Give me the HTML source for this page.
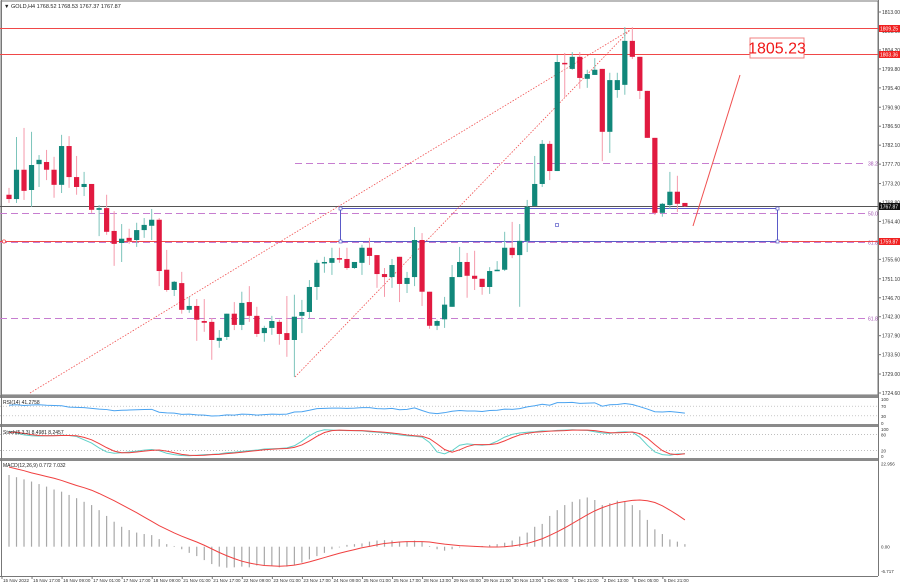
<!DOCTYPE html>
<html><head><meta charset="utf-8"><style>
html,body{margin:0;padding:0;background:#fff;width:900px;height:585px;overflow:hidden}
svg{display:block;font-family:"Liberation Sans",sans-serif}
</style></head><body>
<svg id="c" width="900" height="585" viewBox="0 0 900 585"></svg>
<script>
// ---------- data ----------
const opens=[1770.6,1769.6,1776.4,1771.7,1777.7,1778.2,1776.4,1772.9,1781.9,1774.7,1772.4,1773.1,1767.1,1767.5,1762.2,1759.4,1760.6,1760.1,1762.4,1763.4,1764.8,1753.2,1748.5,1750.1,1743.9,1744.8,1741.3,1741.1,1736.7,1737.6,1743.0,1740.4,1745.7,1742.5,1738.5,1739.7,1741.1,1738.5,1736.9,1742.5,1743.4,1749.2,1754.8,1754.8,1755.9,1755.7,1753.6,1754.8,1758.3,1756.6,1752.2,1751.5,1756.2,1749.9,1751.5,1760.1,1748.1,1740.2,1741.7,1744.6,1751.5,1755.0,1751.8,1751.1,1749.2,1752.9,1753.2,1758.3,1756.6,1759.9,1768.0,1773.1,1782.4,1776.1,1801.2,1799.8,1802.6,1797.5,1798.4,1799.8,1785.2,1794.9,1796.1,1806.3,1802.6,1794.7,1783.8,1766.4,1768.2,1771.3,1768.7];
const highs=[1772.2,1784.0,1786.1,1785.2,1779.8,1781.0,1779.4,1784.5,1784.2,1779.6,1775.9,1773.1,1768.2,1770.6,1766.8,1763.8,1762.7,1764.1,1765.2,1767.3,1765.2,1757.8,1750.6,1752.7,1746.9,1746.4,1746.4,1742.0,1739.2,1743.0,1745.7,1748.1,1749.4,1744.6,1740.2,1742.5,1741.6,1747.1,1747.4,1746.2,1750.8,1755.5,1756.2,1758.3,1758.3,1758.3,1755.0,1759.0,1760.6,1756.6,1753.6,1755.7,1756.2,1752.7,1763.1,1761.7,1748.1,1741.6,1746.9,1754.3,1758.5,1757.1,1757.6,1751.1,1753.8,1755.2,1762.0,1764.3,1763.8,1769.4,1779.6,1783.3,1783.1,1803.0,1803.5,1803.7,1803.7,1799.6,1802.3,1799.8,1798.9,1798.9,1809.5,1809.5,1802.6,1794.7,1783.8,1768.7,1775.9,1775.0,1768.7];
const lows=[1768.7,1768.7,1769.4,1767.8,1772.4,1774.0,1769.9,1771.0,1772.2,1770.6,1770.3,1766.4,1761.0,1761.3,1754.1,1755.0,1759.2,1758.5,1760.6,1760.1,1749.4,1748.1,1747.1,1743.0,1743.2,1736.7,1738.8,1732.3,1735.1,1736.9,1739.2,1739.2,1741.1,1737.6,1736.5,1738.1,1735.8,1733.0,1728.3,1738.5,1742.0,1746.2,1752.5,1752.0,1754.8,1753.2,1753.4,1752.0,1754.3,1749.0,1746.9,1749.0,1745.7,1747.8,1749.4,1744.8,1739.5,1739.2,1739.7,1744.6,1751.5,1746.7,1748.5,1747.4,1747.6,1752.9,1752.9,1755.9,1744.6,1757.3,1768.0,1772.4,1774.0,1776.1,1793.3,1799.6,1795.2,1795.4,1798.4,1778.4,1780.3,1793.1,1793.8,1802.1,1792.8,1783.8,1765.9,1765.5,1767.3,1766.6,1767.8];
const closes=[1769.6,1776.4,1771.5,1777.5,1778.7,1776.4,1772.9,1781.9,1774.7,1772.4,1773.1,1767.1,1767.5,1762.0,1759.2,1760.4,1759.9,1762.4,1763.6,1764.8,1752.9,1748.5,1750.4,1743.9,1744.8,1741.6,1740.9,1736.9,1737.4,1743.0,1740.4,1745.5,1742.5,1738.3,1739.7,1741.3,1738.3,1736.9,1742.3,1743.4,1749.2,1754.8,1755.0,1755.9,1755.7,1753.6,1755.0,1758.3,1756.4,1752.2,1751.5,1754.3,1749.9,1751.3,1760.1,1748.1,1740.2,1741.3,1745.1,1751.5,1755.0,1751.8,1751.1,1749.2,1752.9,1753.2,1758.3,1756.6,1759.9,1767.8,1773.1,1782.4,1776.1,1801.4,1801.0,1802.6,1797.7,1798.6,1799.6,1785.2,1797.2,1797.2,1806.3,1802.6,1794.7,1783.8,1766.4,1768.5,1771.3,1768.5,1767.9];
const priceTicks=[1813.00,1808.60,1804.20,1799.80,1795.40,1790.90,1786.50,1782.10,1777.70,1773.20,1768.80,1764.40,1760.00,1755.60,1751.10,1746.70,1742.30,1737.90,1733.50,1729.00,1724.60];
const rsi=[74,76,73,75,76,74,73,72,66,65,64,61,58,56,51,53,54,55,56,57,45,42,41,36,37,34,33,29,30,34,33,37,36,33,35,37,36,37,46,47,53,60,61,62,62,61,62,64,64,60,59,61,55,57,63,52,42,39,43,49,52,50,50,48,52,53,58,57,60,67,72,78,74,85,85,86,82,83,84,70,76,77,81,77,68,58,47,46,48,45,41];
const stochMain=[92,85,78,75,74,75,76,77,76,72,60,48,30,15,10,12,15,18,22,24,20,10,5,2,1,3,5,6,8,12,14,17,20,22,26,27,28,30,38,55,75,90,97,96,95,94,94,93,90,88,85,82,78,75,73,70,50,15,8,20,40,45,42,40,43,55,70,80,85,88,90,93,92,95,96,97,96,95,90,85,84,88,90,88,70,40,15,5,3,8,8.5];
const stochSignal=[88,88,84,79,76,75,75,76,76,75,69,60,46,31,18,12,12,15,18,21,22,18,12,6,3,2,3,5,6,9,11,14,17,20,23,25,27,28,32,41,56,73,87,94,96,95,94,94,92,90,88,85,82,78,75,73,64,45,24,14,23,35,42,42,42,46,56,68,78,84,88,90,92,93,94,96,96,96,94,90,86,86,87,89,83,66,42,20,8,5,8.2];
const macdHist=[19.8,19.2,18.6,18.0,17.3,16.6,15.8,15.2,14.3,13.4,12.4,11.5,10.1,8.5,6.9,5.5,4.6,3.9,3.5,3.2,2.1,0.7,0.2,-0.7,-1.7,-2.6,-3.7,-4.8,-5.5,-5.8,-5.7,-5.5,-5.7,-5.2,-5.1,-5.3,-5.7,-5.5,-5.1,-4.4,-3.5,-2.6,-1.7,-0.7,-0.2,0.5,0.7,0.9,1.4,1.7,1.8,1.7,1.4,1.4,1.7,1.4,0.2,-0.7,-1.1,-0.7,-0.2,0.0,0.2,0.2,0.5,0.7,1.1,1.7,2.8,3.9,5.5,6.3,8.5,10.1,11.5,12.4,13.1,13.6,12.9,11.5,12.0,12.7,12.4,11.5,10.1,7.4,4.8,3.5,2.0,1.4,0.7];
const macdSignal=[22.0,21.5,21.0,20.4,19.9,19.4,18.9,18.3,17.6,16.9,16.3,15.6,14.7,13.7,12.7,11.6,10.5,9.4,8.2,7.0,5.8,4.8,3.8,2.9,2.1,1.3,0.4,-0.6,-1.6,-2.5,-3.3,-4.0,-4.5,-4.9,-5.2,-5.3,-5.4,-5.3,-5.1,-4.7,-4.2,-3.6,-3.0,-2.4,-1.8,-1.3,-0.8,-0.3,0.1,0.5,0.9,1.1,1.3,1.4,1.4,1.4,1.3,1.0,0.7,0.5,0.3,0.2,0.1,0.0,-0.1,-0.1,0.0,0.2,0.5,0.9,1.5,2.2,3.1,4.1,5.2,6.4,7.6,8.8,9.9,10.8,11.5,12.1,12.5,12.8,12.9,12.7,12.2,11.3,10.1,8.8,7.4];
const dateLabels=["15 Nov 2022","15 Nov 17:00","16 Nov 09:00","17 Nov 01:00","17 Nov 17:00","18 Nov 09:00","21 Nov 01:00","21 Nov 17:00","22 Nov 09:00","23 Nov 01:00","23 Nov 17:00","24 Nov 09:00","25 Nov 01:00","25 Nov 17:00","28 Nov 13:00","29 Nov 05:00","29 Nov 21:00","30 Nov 13:00","1 Dec 05:00","1 Dec 21:00","2 Dec 13:00","5 Dec 05:00","5 Dec 21:00"];
const fibLevels=[1777.9,1766.3,1759.6,1742.0];
const fibNames=["38.2","50.0","61.8","61.8"];
const markerPrices=[1809.25,1803.36,1759.87];

// ---------- scales ----------
const NS="http://www.w3.org/2000/svg", svg=document.getElementById('c');
const PR_TOP=1813, PR_BOT=1724.6, Y_TOP=12, Y_BOT=393;
const py=p=>Y_TOP+(PR_TOP-p)*(Y_BOT-Y_TOP)/(PR_TOP-PR_BOT);
const crisp=y=>Math.round(y)+0.5;
const cx=i=>9+i*7.51;
const rsiY=v=>423-v*0.24;
const stY=v=>456-v*0.27;
const mY=v=>546.7-v*3.62;
function mk(t,a,txt){const e=document.createElementNS(NS,t);for(const k in a)e.setAttribute(k,a[k]);if(txt!=null)e.textContent=txt;svg.appendChild(e);return e;}

let e;
e=mk('rect',{x:1,y:1,width:877,height:394,fill:'none',stroke:'#777','stroke-width':1});

const seps=[[395,3],[424,3],[458,3]];
seps.forEach(s=>{e=mk('rect',{x:0,y:s[0],width:878,height:s[1],fill:'#8a8a8a'});
});
e=mk('line',{x1:878.5,y1:0,x2:878.5,y2:576,stroke:'#777'});

e=mk('line',{x1:0,y1:576.5,x2:878,y2:576.5,stroke:'#777'});

e=mk('line',{x1:1.5,y1:0,x2:1.5,y2:576,stroke:'#777'});


e=mk('text',{x:4,y:8,'font-size':5.5,fill:'#222'},'▼ GOLD,H4  1768.52 1768.53 1767.37 1767.87');


priceTicks.forEach(t=>{const y=py(t);
e=mk('line',{x1:878,y1:y,x2:881,y2:y,stroke:'#777'});

e=mk('text',{x:882,y:y+2,'font-size':5,fill:'#333'},t.toFixed(2));
});

fibLevels.forEach((f,k)=>{const y=crisp(py(f));const x0=(k==0)?295:0;
e=mk('line',{x1:x0,y1:y,x2:866,y2:y,stroke:'#c77dd0','stroke-width':1,'stroke-dasharray':'7,4'});

e=mk('text',{x:868,y:y+2,'font-size':5,fill:'#a050b0'},fibNames[k]);
});

markerPrices.forEach(m=>{const y=crisp(py(m));
e=mk('line',{x1:0,y1:y,x2:878,y2:y,stroke:'#f04848','stroke-width':1});

e=mk('rect',{x:879,y:y-3.5,width:21,height:7,fill:'#f02020'});

e=mk('text',{x:880,y:y+2,'font-size':5,fill:'#fff'},m.toFixed(2));
});
e=mk('circle',{cx:4,cy:crisp(py(1759.87)),r:1.6,fill:'#fff',stroke:'#f05050','stroke-width':0.8});


const last=closes[closes.length-1];
const ly=crisp(py(last));
e=mk('line',{x1:0,y1:ly,x2:878,y2:ly,stroke:'#555','stroke-width':1});

e=mk('rect',{x:879,y:ly-3.5,width:21,height:7,fill:'#111'});

e=mk('text',{x:880,y:ly+2,'font-size':5,fill:'#fff'},'1767.87');


const rt=crisp(py(1767.6)), rb=crisp(py(1759.87));
e=mk('rect',{x:340.5,y:rt,width:437,height:rb-rt,fill:'none',stroke:'#5a5ac8','stroke-width':1});

[[340.5,rt],[777.5,rt],[340.5,rb],[777.5,rb],[557,(rt+rb)/2]].forEach(p=>{
e=mk('rect',{x:p[0]-1.5,y:p[1]-1.5,width:3,height:3,fill:'#fff',stroke:'#5a5ac8','stroke-width':0.7});
});

e=mk('line',{x1:30,y1:393,x2:630,y2:30,stroke:'#f05050','stroke-width':0.8,'stroke-dasharray':'1.5,1.5'});

e=mk('line',{x1:295,y1:377,x2:630,y2:30,stroke:'#f05050','stroke-width':0.8,'stroke-dasharray':'1.5,1.5'});

e=mk('line',{x1:693,y1:226,x2:740,y2:75,stroke:'#f05050','stroke-width':1});


for(let i=0;i<opens.length;i++){const up=closes[i]>=opens[i];const x=cx(i);
e=mk('line',{x1:x,y1:py(highs[i]),x2:x,y2:py(lows[i]),stroke:up?'#7cc4bb':'#f59aab','stroke-width':1});

const t=py(Math.max(opens[i],closes[i])),b=py(Math.min(opens[i],closes[i]));
e=mk('rect',{x:x-2.6,y:t,width:5.2,height:Math.max(1.5,b-t),fill:up?'#11877a':'#e11a40'});
}

e=mk('rect',{x:750,y:38,width:54,height:20,fill:'#fff',stroke:'#f08080','stroke-width':1});

e=mk('text',{x:777,y:53.5,'font-size':16,fill:'#f01818','text-anchor':'middle'},'1805.23');


[70,30].forEach(l=>{e=mk('line',{x1:0,y1:rsiY(l),x2:878,y2:rsiY(l),stroke:'#aaa','stroke-dasharray':'1,2','stroke-width':0.7});
});
e=mk('polyline',{points:rsi.map((v,i)=>cx(i)+','+rsiY(v)).join(' '),fill:'none',stroke:'#4aa3f0','stroke-width':1});

e=mk('text',{x:3,y:404,'font-size':5,fill:'#222'},'RSI(14) 41.2758');

[[100,'100'],[70,'70'],[30,'30'],[0,'0']].forEach(a=>{e=mk('text',{x:881,y:rsiY(a[0])+2,'font-size':4.5,fill:'#333'},a[1]);
});

[80,20].forEach(l=>{e=mk('line',{x1:0,y1:stY(l),x2:878,y2:stY(l),stroke:'#aaa','stroke-dasharray':'1,2','stroke-width':0.7});
});
e=mk('polyline',{points:stochMain.map((v,i)=>cx(i)+','+stY(v)).join(' '),fill:'none',stroke:'#5fd0c8','stroke-width':1});

e=mk('polyline',{points:stochSignal.map((v,i)=>cx(i)+','+stY(v)).join(' '),fill:'none',stroke:'#f04040','stroke-width':1});

e=mk('text',{x:3,y:434,'font-size':5,fill:'#222'},'Stoch(5,3,3) 8.4981 8.2457');

[[100,'100'],[80,'80'],[20,'20'],[0,'0']].forEach(a=>{e=mk('text',{x:881,y:stY(a[0])+2,'font-size':4.5,fill:'#333'},a[1]);
});

macdHist.forEach((v,i)=>{e=mk('line',{x1:cx(i),y1:mY(0),x2:cx(i),y2:mY(v),stroke:'#a8a8a8','stroke-width':1.2});
});
e=mk('polyline',{points:macdSignal.map((v,i)=>cx(i)+','+mY(v)).join(' '),fill:'none',stroke:'#f04040','stroke-width':1});

e=mk('text',{x:3,y:467,'font-size':5,fill:'#222'},'MACD(12,26,9) 0.772 7.032');

[[22.956,'22.956'],[0,'0.00'],[-6.717,'-6.717']].forEach(a=>{e=mk('text',{x:881,y:mY(a[0])+2,'font-size':4.5,fill:'#333'},a[1]);
});

dateLabels.forEach((d,k)=>{const x=2+k*30.04;
e=mk('line',{x1:x,y1:576,x2:x,y2:579,stroke:'#777'});

e=mk('text',{x:x+1,y:582,'font-size':4.6,fill:'#333'},d);
});
</script>
</body></html>
